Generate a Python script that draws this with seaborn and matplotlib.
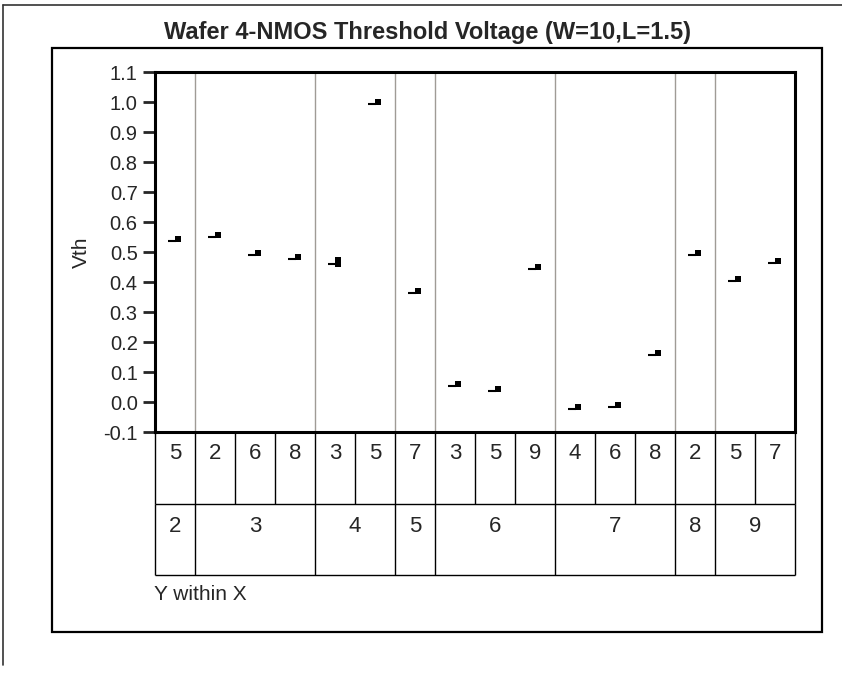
import pandas as pd
import matplotlib.pyplot as plt
import seaborn as sns
from matplotlib.lines import Line2D
from matplotlib.patches import Rectangle
from matplotlib.transforms import ScaledTranslation

sns.set_style('white')
plt.rcParams['font.family'] = ['Liberation Sans', 'DejaVu Sans']

# Variability chart data: X (outer) and Y within X (inner) levels
x_group = ['2', '3', '3', '3', '4', '4', '5', '6', '6', '6', '7', '7', '7', '8', '9', '9']
y_within = ['5', '2', '6', '8', '3', '5', '7', '3', '5', '9', '4', '6', '8', '2', '5', '7']
vth = [0.538, 0.551, 0.491, 0.478, 0.452, 0.992, 0.364, 0.052, 0.038, 0.444,
       -0.022, -0.016, 0.157, 0.491, 0.403, 0.464]
# second measurement in cell X=4, Y=3
extra_cell = ('4', '3')
extra_vth = [0.466]

cells = [f'{a}/{b}' for a, b in zip(x_group, y_within)]
df = pd.DataFrame({'cell': cells, 'Vth': vth})
df = pd.concat([df, pd.DataFrame({'cell': [f'{extra_cell[0]}/{extra_cell[1]}'] * len(extra_vth),
                                  'Vth': extra_vth})], ignore_index=True)
means = df.groupby('cell', sort=False)['Vth'].mean().reindex(cells).reset_index()

fig = plt.figure(figsize=(8.42, 6.75), dpi=100)
W, H = 842, 675

def fx(px):
    return px / W

def fy(py):
    return 1 - py / H

# outer frame and inner box
fig.add_artist(Line2D([fx(3), fx(842)], [fy(4.5), fy(4.5)], color='#333333', lw=1.2))
fig.add_artist(Line2D([fx(3), fx(3)], [fy(4.5), fy(665)], color='#333333', lw=1.2))
fig.add_artist(Rectangle((fx(52), fy(632)), fx(822) - fx(52), fy(48) - fy(632),
                         fill=False, edgecolor='black', lw=1.6, transform=fig.transFigure))

ax = fig.add_axes([fx(155), fy(432), fx(795) - fx(155), fy(72) - fy(432)])

# mean dash and data points
sns.scatterplot(data=means, x='cell', y='Vth', marker='_', s=33, color='black',
                linewidth=1.5, ax=ax, legend=False)
sns.scatterplot(data=df, x='cell', y='Vth', marker='s', s=19, color='black',
                linewidth=0, ax=ax, legend=False)
dash_coll, pt_coll = ax.collections[0], ax.collections[1]
dash_coll.set_offset_transform(ax.transData + ScaledTranslation(-3 / 100, 0, fig.dpi_scale_trans))
pt_coll.set_offset_transform(ax.transData + ScaledTranslation(3 / 100, 2 / 100, fig.dpi_scale_trans))

n = len(cells)
ax.set_xlim(-0.5, n - 0.5)
ax.set_ylim(-0.1, 1.1)
ax.set_yticks([i / 10 for i in range(-1, 12)])
ax.set_yticklabels([f'{i / 10:.1f}' for i in range(-1, 12)])
ax.set_xticks([])
ax.set_xlabel('')
ax.set_ylabel('Vth', fontsize=15)
ax.yaxis.label.set_va('center')
ax.yaxis.set_label_coords((81 - 155) / 640, 0.5)
ax.tick_params(axis='y', length=9, width=2, pad=3.5, labelsize=14.5, left=True)
for sp in ax.spines.values():
    sp.set_linewidth(2.2)
    sp.set_color('black')

# group boundaries
bounds = [i + 0.5 for i in range(n - 1) if x_group[i] != x_group[i + 1]]
for b in bounds:
    ax.axvline(b, color='#9f9b96', lw=1.0, zorder=0)

# Y within X label table
tab = fig.add_axes([fx(155), fy(575), fx(795) - fx(155), fy(432) - fy(575)])
tab.set_xlim(-0.5, n - 0.5)
tab.set_ylim(0, 2)
tab.axis('off')
tab.vlines([i - 0.5 for i in range(n + 1)], 1, 2, color='black', lw=1.0, clip_on=False)
tab.vlines([-0.5] + bounds + [n - 0.5], 0, 1, color='black', lw=1.0, clip_on=False)
tab.hlines([0, 1], -0.5, n - 0.5, color='black', lw=1.0, clip_on=False)
for i, lab in enumerate(y_within):
    tab.text(i, 1.622, lab, ha='center', va='baseline', fontsize=16)
edges = [-0.5] + bounds + [n - 0.5]
starts = [0] + [int(b + 0.5) for b in bounds]
for k, s0 in enumerate(starts):
    tab.text((edges[k] + edges[k + 1]) / 2, 0.606, x_group[s0], ha='center', va='baseline', fontsize=16)

fig.text(fx(154), fy(600.5), 'Y within X', ha='left', va='baseline', fontsize=15)
fig.text(fx(428), fy(39.5), 'Wafer 4-NMOS Threshold Voltage (W=10,L=1.5)',
         ha='center', va='baseline', fontsize=17, fontweight='bold')

fig.savefig('out.png', dpi=100)
